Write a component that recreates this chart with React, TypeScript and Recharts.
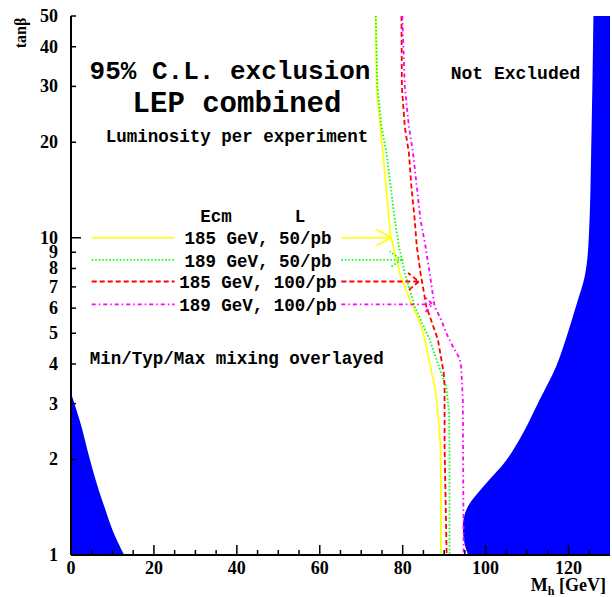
import { ComposedChart, XAxis, YAxis, Line, Area } from 'recharts'

// tanβ vs M_h (GeV)
const xTicks = [0, 5, 10, 15, 20, 25, 30, 35, 40, 45, 50, 55, 60, 65, 70, 75, 80, 85, 90, 95, 100, 105, 110, 115, 120, 125]
const yTicks = [1, 2, 3, 4, 5, 6, 7, 8, 9, 10, 20, 30, 40, 50]

// blue "MSSM not allowed" regions (boundary as function of tanβ)
const leftTb = [3.24, 2.6, 1.99, 1.6, 1.39, 1.2, 1.0]
const leftMh = [0, 2.3, 4.6, 6.7, 8.3, 10.0, 12.8]
const rightTb = [50, 20, 10.1, 7.55, 6.2, 5.0, 3.93, 3.08, 2.42, 1.99, 1.64, 1.42, 1.23, 1.09, 1]
const rightMh = [126.0, 125.5, 124.9, 123.9, 122.0, 119.8, 117.0, 113.0, 109.0, 105.0, 99.4, 95.7, 94.5, 94.9, 95.8]

// exclusion curves
const yellowTb = [50, 30, 10.1, 9.2, 7.7, 6.2, 5.9, 5.25, 4.8, 3.3, 2.8, 2.2, 1.7, 1]
const yellowMh = [73.5, 73.7, 77.1, 77.9, 79.3, 82.1, 82.9, 84.5, 85.3, 87.9, 88.5, 89.1, 89.2, 89.2]
const greenTb = [50, 30, 22.4, 18.5, 14.5, 11.4, 9.39, 7.74, 6.07, 4.77, 3.74, 3.4, 2.8, 2.2, 1]
const greenMh = [73.5, 73.9, 74.9, 76.1, 77.1, 78.1, 79.1, 80.5, 82.9, 86.5, 89.3, 90.5, 91.2, 91.3, 91.3]
const redTb = [50, 30, 22.4, 18.5, 14.5, 11.4, 9.39, 7.74, 6.07, 4.77, 3.74, 3.4, 2.2, 1]
const redMh = [79.7, 79.8, 80.5, 81.5, 82.1, 82.9, 83.4, 84.3, 85.7, 88.5, 89.9, 90.1, 90.1, 90.6]
const magentaTb = [50, 30, 22.4, 18.5, 14.5, 11.4, 9.39, 7.74, 6.07, 5.51, 5.01, 4.54, 4.17, 3.93, 3.08, 1]
const magentaMh = [79.9, 80.5, 81.5, 82.5, 83.4, 84.3, 85.5, 86.5, 87.7, 89.3, 90.5, 92.1, 93.7, 94.1, 94.5, 94.7]

// legend lines with arrows pointing at the curves
const legendLabels = ['185 GeV, 50/pb', '189 GeV, 50/pb', '185 GeV, 100/pb', '189 GeV, 100/pb']
const legendTb = [10.0, 8.52, 7.28, 6.17]
const legendLeft = [5, 25]
const legendRightStart = 65.2
const legendTipMh = [77.3, 79.7, 83.9, 87.2]
const arrowUpper = [[73.7, 10.6], [76.9, 9.06], [81.3, 7.74], [85.3, 6.52]]
const arrowLower = [[73.7, 9.45], [77.3, 8.12], [81.5, 6.85], [85.5, 5.84]]

const series = [
  { tb: yellowTb, mh: yellowMh, color: '#ffff00', dash: undefined, width: 1.6 },
  { tb: greenTb, mh: greenMh, color: '#00ff00', dash: '1.5 2', width: 1.8 },
  { tb: redTb, mh: redMh, color: '#ff0000', dash: '5 3', width: 1.8 },
  { tb: magentaTb, mh: magentaMh, color: '#ff00ff', dash: '4 3 1.5 3', width: 1.8 },
]

const MONO = '"Liberation Mono", "Courier New", monospace'
const SERIF = '"Liberation Serif", "Times New Roman", serif'

const toPoints = (tb: number[], mh: number[]) => tb.map((t, i) => ({ tb: t, mh: mh[i] }))

// each legend entry: left stub, right stub running into the arrow tip, second arrow wing
const legendSegments = (i: number) => {
  const t = legendTb[i]
  return [
    [{ tb: t, mh: legendLeft[0] }, { tb: t, mh: legendLeft[1] }],
    [{ tb: t, mh: legendRightStart }, { tb: t, mh: legendTipMh[i] }, { tb: arrowUpper[i][1], mh: arrowUpper[i][0] }],
    [{ tb: arrowLower[i][1], mh: arrowLower[i][0] }, { tb: t, mh: legendTipMh[i] }],
  ]
}

const XTick = (side: 'top' | 'bottom') => (props: any) => {
  const { x, y, payload } = props
  const major = payload.value % 20 === 0
  const len = major ? 10 : 5
  const dir = side === 'top' ? 1 : -1
  return (
    <g>
      <line x1={x} y1={y} x2={x} y2={y + dir * len} stroke="#000" strokeWidth={1.5} />
      {side === 'bottom' && major && (
        <text x={x} y={y + 19} textAnchor="middle" fontFamily={SERIF} fontWeight="bold" fontSize={18} fill="#000">
          {payload.value}
        </text>
      )}
    </g>
  )
}

const YTick = (side: 'left' | 'right') => (props: any) => {
  const { x, y, payload } = props
  const major = payload.value === 1 || payload.value === 10
  const len = major ? 10 : 5
  const dir = side === 'left' ? 1 : -1
  return (
    <g>
      <line x1={x} y1={y} x2={x + dir * len} y2={y} stroke="#000" strokeWidth={1.5} />
      {side === 'left' && (
        <text x={x - 13} y={y + 6} textAnchor="end" fontFamily={SERIF} fontWeight="bold" fontSize={18} fill="#000">
          {payload.value}
        </text>
      )}
    </g>
  )
}

const frame = { stroke: '#000', strokeWidth: 2 }

export default function App() {
  return (
    <div style={{ position: 'absolute', left: 0, top: 0, background: '#fff' }}>
      <ComposedChart width={612} height={597} layout="vertical" margin={{ top: 16, right: 2, bottom: 0, left: 0 }}>
        <XAxis xAxisId="b" type="number" domain={[0, 130]} ticks={xTicks} interval={0} allowDataOverflow
          orientation="bottom" height={42} tickSize={0} tickMargin={0} tickLine={false} axisLine={frame} tick={XTick('bottom')} />
        <XAxis xAxisId="t" type="number" domain={[0, 130]} ticks={xTicks} interval={0} allowDataOverflow
          orientation="top" height={0} tickSize={0} tickMargin={0} tickLine={false} axisLine={frame} tick={XTick('top')} />
        <YAxis yAxisId="l" type="number" dataKey="tb" scale="log" domain={[1, 50]} ticks={yTicks} interval={0} allowDataOverflow reversed
          orientation="left" width={71} tickSize={0} tickMargin={0} tickLine={false} axisLine={frame} tick={YTick('left')} />
        <YAxis yAxisId="r" type="number" dataKey="tb" scale="log" domain={[1, 50]} ticks={yTicks} interval={0} allowDataOverflow reversed
          orientation="right" width={0} tickSize={0} tickMargin={0} tickLine={false} axisLine={frame} tick={YTick('right')} />

        <Area xAxisId="b" yAxisId="l" data={toPoints(leftTb, leftMh)} dataKey="mh" type="monotone"
          baseValue={0} fill="#0000ff" fillOpacity={1} stroke="none" isAnimationActive={false} />
        <Area xAxisId="b" yAxisId="l" data={toPoints(rightTb, rightMh)} dataKey="mh" type="monotone"
          baseValue={130} fill="#0000ff" fillOpacity={1} stroke="none" isAnimationActive={false} />

        {series.map((s, i) => (
          <Line key={'c' + i} xAxisId="b" yAxisId="l" data={toPoints(s.tb, s.mh)} dataKey="mh" type="linear"
            stroke={s.color} strokeWidth={s.width} strokeDasharray={s.dash} dot={false} activeDot={false}
            isAnimationActive={false} />
        ))}
        {series.map((s, i) =>
          legendSegments(i).map((seg, j) => (
            <Line key={'l' + i + '-' + j} xAxisId="b" yAxisId="l" data={seg} dataKey="mh" type="linear"
              stroke={s.color} strokeWidth={s.width} strokeDasharray={s.dash} dot={false} activeDot={false}
              isAnimationActive={false} />
          ))
        )}

        <g fontFamily={MONO} fontWeight="bold" fill="#000">
          <text x={230} y={79} textAnchor="middle" fontSize={26}>95% C.L. exclusion</text>
          <text x={237} y={111.7} textAnchor="middle" fontSize={29}>LEP combined</text>
          <text x={237} y={141.7} textAnchor="middle" fontSize={17.5}>Luminosity per experiment</text>
          <text x={515.5} y={79.3} textAnchor="middle" fontSize={18}>Not Excluded</text>
          <text x={216} y={221.7} textAnchor="middle" fontSize={17.5}>Ecm</text>
          <text x={300} y={221.7} textAnchor="middle" fontSize={17.5}>L</text>
          {legendLabels.map((lab, i) => (
            <text key={lab} x={258} y={[244.3, 266.7, 288.3, 311][i]} textAnchor="middle" fontSize={17.5}>{lab}</text>
          ))}
          <text x={236.7} y={364} textAnchor="middle" fontSize={17.5}>Min/Typ/Max mixing overlayed</text>
          <text x={548} y={506} textAnchor="middle" fontSize={16} letterSpacing={0.9} fill="#fff">MSSM</text>
          <text x={548} y={522.7} textAnchor="middle" fontSize={16} letterSpacing={0.9} fill="#fff">NOT</text>
          <text x={548} y={539.3} textAnchor="middle" fontSize={16} letterSpacing={0.9} fill="#fff">allowed</text>
        </g>
        <g fontFamily={SERIF} fontWeight="bold" fill="#000">
          <text x={26} y={33} textAnchor="middle" fontSize={16} transform="rotate(-90 26 33)">tanβ</text>
          <text x={606} y={591} textAnchor="end" fontSize={18}>
            M<tspan fontSize={12} dy={4}>h</tspan><tspan dy={-4}> [GeV]</tspan>
          </text>
        </g>
      </ComposedChart>
    </div>
  )
}
